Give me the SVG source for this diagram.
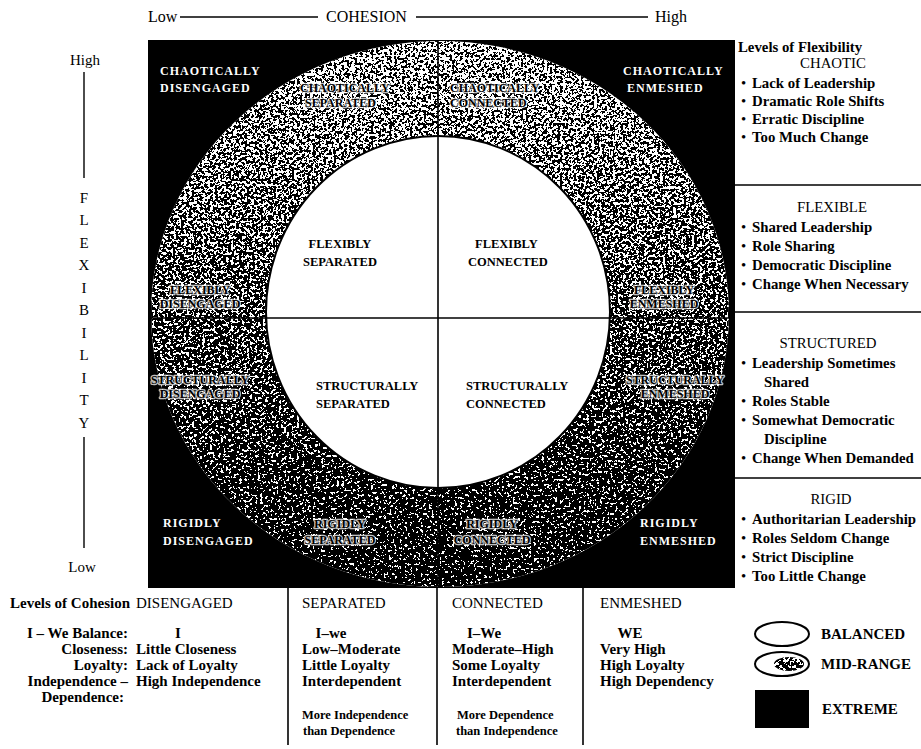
<svg xmlns="http://www.w3.org/2000/svg" width="921" height="749" viewBox="0 0 921 749">
  <defs>
    <style>
      text { font-family: "Liberation Serif", "Times New Roman", serif; fill: #000; }
      .hd { font-size: 16px; }
      .ax { font-size: 15px; }
      .ex { font-size: 12px; font-weight: bold; fill: #fff; letter-spacing: 1px; }
      .mr { font-size: 12px; font-weight: bold; }
      .halo { fill: #fff; stroke: #fff; stroke-width: 2.5px; stroke-linejoin: round; opacity: 0.75; }
      .bl { font-size: 12.5px; font-weight: bold; }
      .rc { font-size: 14.8px; }
      .bt { font-size: 15px; }
      .sm { font-size: 12.5px; font-weight: bold; }
      .b { font-weight: bold; }
      .mid { text-anchor: middle; }
      .end { text-anchor: end; }
      .rule { stroke: #000; stroke-width: 1.6; fill: none; }
      .axis { stroke: #000; stroke-width: 1.4; fill: none; }
    </style>
    <!-- band between the outer and inner ellipse -->
    <clipPath id="ring">
      <path clip-rule="evenodd" d="M151,314 a289,273 0 1 0 578,0 a289,273 0 1 0 -578,0 Z M266,312 a172,176 0 1 0 344,0 a172,176 0 1 0 -344,0 Z"/>
    </clipPath>
    <clipPath id="legendCore">
      <ellipse cx="789" cy="664" rx="15" ry="7"/>
    </clipPath>
    <!-- grey level = speckle density -->
    <linearGradient id="density" x1="0" y1="0" x2="0" y2="1">
      <stop offset="0" stop-color="rgb(118,118,118)"/>
      <stop offset="0.5" stop-color="rgb(142,142,142)"/>
      <stop offset="1" stop-color="rgb(166,166,166)"/>
    </linearGradient>
    <filter id="grain" x="0" y="0" width="1" height="1" color-interpolation-filters="sRGB">
      <feTurbulence type="fractalNoise" baseFrequency="0.38" numOctaves="3" seed="11" result="n"/>
      <feColorMatrix in="n" type="matrix" values="1 0 0 0 0  1 0 0 0 0  1 0 0 0 0  0 0 0 0 1" result="g"/>
      <feComposite in="g" in2="SourceGraphic" operator="arithmetic" k1="0" k2="1" k3="1" k4="-0.5" result="s"/>
      <feComponentTransfer in="s" result="t">
        <feFuncR type="discrete" tableValues="0 1"/>
      </feComponentTransfer>
      <feColorMatrix in="t" type="matrix" values="0 0 0 0 0  0 0 0 0 0  0 0 0 0 0  1 0 0 0 0"/>
    </filter>
  </defs>

  <rect x="0" y="0" width="921" height="749" fill="#fff"/>

  <!-- circumplex field -->
  <g id="field">
    <rect x="148" y="40" width="587" height="548" fill="#000"/>
    <ellipse cx="440" cy="314" rx="289" ry="273" fill="#fff"/>
    <g clip-path="url(#ring)">
      <rect x="150" y="40" width="582" height="548" fill="url(#density)" filter="url(#grain)"/>
    </g>
    <ellipse cx="438" cy="312" rx="172" ry="176" fill="#fff" stroke="#000" stroke-width="2"/>
  </g>

  <!-- axes and dividers -->
  <g id="connectors">
    <line class="rule" x1="438" y1="40" x2="438" y2="588"/>
    <line class="rule" x1="150" y1="318" x2="732" y2="318"/>
    <line class="axis" x1="180" y1="17" x2="318" y2="17"/>
    <line class="axis" x1="416" y1="17" x2="648" y2="17"/>
    <line class="axis" x1="84" y1="72" x2="84" y2="178"/>
    <line class="axis" x1="84" y1="437" x2="84" y2="548"/>
    <line class="rule" x1="735" y1="185" x2="921" y2="185"/>
    <line class="rule" x1="735" y1="312" x2="921" y2="312"/>
    <line class="rule" x1="735" y1="478" x2="921" y2="478"/>
    <line class="rule" x1="288" y1="588" x2="288" y2="745"/>
    <line class="rule" x1="437" y1="588" x2="437" y2="745"/>
    <line class="rule" x1="583" y1="588" x2="583" y2="745"/>
  </g>

  <!-- axis titles -->
  <g id="cohesion-axis">
    <text class="hd" x="148" y="22">Low</text>
    <text class="hd" x="326" y="22">COHESION</text>
    <text class="hd" x="655" y="22">High</text>
  </g>
  <g id="flexibility-axis">
    <text class="ax mid" x="85" y="65">High</text>
    <text class="ax mid" x="84" y="203">F</text>
    <text class="ax mid" x="84" y="225">L</text>
    <text class="ax mid" x="84" y="248">E</text>
    <text class="ax mid" x="84" y="270">X</text>
    <text class="ax mid" x="84" y="293">I</text>
    <text class="ax mid" x="84" y="315">B</text>
    <text class="ax mid" x="84" y="338">I</text>
    <text class="ax mid" x="84" y="360">L</text>
    <text class="ax mid" x="84" y="383">I</text>
    <text class="ax mid" x="84" y="405">T</text>
    <text class="ax mid" x="84" y="428">Y</text>
    <text class="ax mid" x="82" y="572">Low</text>
  </g>

  <!-- extreme types -->
  <g id="chaotically-disengaged"><text class="ex" x="160" y="75">CHAOTICALLY</text><text class="ex" x="160" y="92">DISENGAGED</text></g>
  <g id="chaotically-enmeshed"><text class="ex" x="623" y="75">CHAOTICALLY</text><text class="ex" x="627" y="92">ENMESHED</text></g>
  <g id="rigidly-disengaged"><text class="ex" x="163" y="527">RIGIDLY</text><text class="ex" x="163" y="545">DISENGAGED</text></g>
  <g id="rigidly-enmeshed"><text class="ex" x="640" y="527">RIGIDLY</text><text class="ex" x="640" y="545">ENMESHED</text></g>

  <!-- mid-range types: white underlay, then black lettering -->
  <g id="chaotically-separated">
    <text class="mr halo" x="300" y="92">CHAOTICALLY</text><text class="mr halo" x="305" y="107">SEPARATED</text>
    <text class="mr" x="300" y="92">CHAOTICALLY</text><text class="mr" x="305" y="107">SEPARATED</text>
  </g>
  <g id="chaotically-connected">
    <text class="mr halo" x="450" y="92">CHAOTICALLY</text><text class="mr halo" x="450" y="107">CONNECTED</text>
    <text class="mr" x="450" y="92">CHAOTICALLY</text><text class="mr" x="450" y="107">CONNECTED</text>
  </g>
  <g id="flexibly-disengaged">
    <text class="mr mid halo" x="200" y="294">FLEXIBLY</text><text class="mr mid halo" x="200" y="308">DISENGAGED</text>
    <text class="mr mid" x="200" y="294">FLEXIBLY</text><text class="mr mid" x="200" y="308">DISENGAGED</text>
  </g>
  <g id="flexibly-enmeshed">
    <text class="mr mid halo" x="664" y="294">FLEXIBLY</text><text class="mr mid halo" x="664" y="308">ENMESHED</text>
    <text class="mr mid" x="664" y="294">FLEXIBLY</text><text class="mr mid" x="664" y="308">ENMESHED</text>
  </g>
  <g id="structurally-disengaged">
    <text class="mr mid halo" x="200" y="384">STRUCTURALLY</text><text class="mr mid halo" x="200" y="398">DISENGAGED</text>
    <text class="mr mid" x="200" y="384">STRUCTURALLY</text><text class="mr mid" x="200" y="398">DISENGAGED</text>
  </g>
  <g id="structurally-enmeshed">
    <text class="mr mid halo" x="675" y="384">STRUCTURALLY</text><text class="mr mid halo" x="675" y="398">ENMESHED</text>
    <text class="mr mid" x="675" y="384">STRUCTURALLY</text><text class="mr mid" x="675" y="398">ENMESHED</text>
  </g>
  <g id="rigidly-separated">
    <text class="mr mid halo" x="340" y="528">RIGIDLY</text><text class="mr mid halo" x="340" y="544">SEPARATED</text>
    <text class="mr mid" x="340" y="528">RIGIDLY</text><text class="mr mid" x="340" y="544">SEPARATED</text>
  </g>
  <g id="rigidly-connected">
    <text class="mr mid halo" x="492" y="528">RIGIDLY</text><text class="mr mid halo" x="492" y="544">CONNECTED</text>
    <text class="mr mid" x="492" y="528">RIGIDLY</text><text class="mr mid" x="492" y="544">CONNECTED</text>
  </g>

  <!-- balanced types -->
  <g id="flexibly-separated"><text class="bl mid" x="340" y="248">FLEXIBLY</text><text class="bl mid" x="340" y="266">SEPARATED</text></g>
  <g id="flexibly-connected"><text class="bl" x="475" y="248">FLEXIBLY</text><text class="bl" x="468" y="266">CONNECTED</text></g>
  <g id="structurally-separated"><text class="bl" x="316" y="390">STRUCTURALLY</text><text class="bl" x="316" y="408">SEPARATED</text></g>
  <g id="structurally-connected"><text class="bl" x="466" y="390">STRUCTURALLY</text><text class="bl" x="466" y="408">CONNECTED</text></g>

  <!-- flexibility levels -->
  <g id="levels-flexibility">
    <text class="rc b" x="738" y="52">Levels of Flexibility</text>
    <text class="rc mid" x="833" y="68">CHAOTIC</text>
    <text class="rc" x="741" y="88">•</text><text class="rc b" x="752" y="88">Lack of Leadership</text>
    <text class="rc" x="741" y="106">•</text><text class="rc b" x="752" y="106">Dramatic Role Shifts</text>
    <text class="rc" x="741" y="124">•</text><text class="rc b" x="752" y="124">Erratic Discipline</text>
    <text class="rc" x="741" y="142">•</text><text class="rc b" x="752" y="142">Too Much Change</text>

    <text class="rc mid" x="832" y="212">FLEXIBLE</text>
    <text class="rc" x="741" y="232">•</text><text class="rc b" x="752" y="232">Shared Leadership</text>
    <text class="rc" x="741" y="251">•</text><text class="rc b" x="752" y="251">Role Sharing</text>
    <text class="rc" x="741" y="270">•</text><text class="rc b" x="752" y="270">Democratic Discipline</text>
    <text class="rc" x="741" y="289">•</text><text class="rc b" x="752" y="289">Change When Necessary</text>

    <text class="rc mid" x="828" y="348">STRUCTURED</text>
    <text class="rc" x="741" y="368">•</text><text class="rc b" x="752" y="368">Leadership Sometimes</text>
    <text class="rc b" x="764" y="387">Shared</text>
    <text class="rc" x="741" y="406">•</text><text class="rc b" x="752" y="406">Roles Stable</text>
    <text class="rc" x="741" y="425">•</text><text class="rc b" x="752" y="425">Somewhat Democratic</text>
    <text class="rc b" x="764" y="444">Discipline</text>
    <text class="rc" x="741" y="463">•</text><text class="rc b" x="752" y="463">Change When Demanded</text>

    <text class="rc mid" x="831" y="504">RIGID</text>
    <text class="rc" x="741" y="524">•</text><text class="rc b" x="752" y="524">Authoritarian Leadership</text>
    <text class="rc" x="741" y="543">•</text><text class="rc b" x="752" y="543">Roles Seldom Change</text>
    <text class="rc" x="741" y="562">•</text><text class="rc b" x="752" y="562">Strict Discipline</text>
    <text class="rc" x="741" y="581">•</text><text class="rc b" x="752" y="581">Too Little Change</text>
  </g>

  <!-- cohesion levels -->
  <g id="levels-cohesion">
    <text class="bt b" x="10" y="608">Levels of Cohesion</text>
    <text class="bt b end" x="128" y="638">I – We Balance:</text>
    <text class="bt b end" x="128" y="654">Closeness:</text>
    <text class="bt b end" x="128" y="670">Loyalty:</text>
    <text class="bt b end" x="128" y="686">Independence –</text>
    <text class="bt b end" x="124" y="702">Dependence:</text>
  </g>
  <g id="disengaged">
    <text class="bt" x="136" y="608">DISENGAGED</text>
    <text class="bt b mid" x="178" y="638">I</text>
    <text class="bt b" x="136" y="654">Little Closeness</text>
    <text class="bt b" x="136" y="670">Lack of Loyalty</text>
    <text class="bt b" x="136" y="686">High Independence</text>
  </g>
  <g id="separated">
    <text class="bt" x="302" y="608">SEPARATED</text>
    <text class="bt b mid" x="331" y="638">I–we</text>
    <text class="bt b" x="302" y="654">Low–Moderate</text>
    <text class="bt b" x="302" y="670">Little Loyalty</text>
    <text class="bt b" x="302" y="686">Interdependent</text>
    <text class="sm" x="302" y="719">More Independence</text>
    <text class="sm" x="303" y="735">than Dependence</text>
  </g>
  <g id="connected">
    <text class="bt" x="452" y="608">CONNECTED</text>
    <text class="bt b mid" x="484" y="638">I–We</text>
    <text class="bt b" x="452" y="654">Moderate–High</text>
    <text class="bt b" x="452" y="670">Some Loyalty</text>
    <text class="bt b" x="452" y="686">Interdependent</text>
    <text class="sm" x="457" y="719">More Dependence</text>
    <text class="sm" x="456" y="735">than Independence</text>
  </g>
  <g id="enmeshed">
    <text class="bt" x="600" y="608">ENMESHED</text>
    <text class="bt b mid" x="630" y="638">WE</text>
    <text class="bt b" x="600" y="654">Very High</text>
    <text class="bt b" x="600" y="670">High Loyalty</text>
    <text class="bt b" x="600" y="686">High Dependency</text>
  </g>

  <!-- key -->
  <g id="legend-balanced">
    <ellipse cx="782" cy="634" rx="27" ry="12" fill="#fff" stroke="#000" stroke-width="2"/>
    <text class="bt b" x="821" y="639">BALANCED</text>
  </g>
  <g id="legend-mid-range">
    <ellipse cx="782" cy="664" rx="27" ry="12" fill="#fff" stroke="#000" stroke-width="2"/>
    <g clip-path="url(#legendCore)">
      <rect x="772" y="656" width="34" height="16" fill="rgb(140,140,140)" filter="url(#grain)"/>
    </g>
    <text class="bt b" x="821" y="669">MID-RANGE</text>
  </g>
  <g id="legend-extreme">
    <rect x="755" y="690" width="54" height="38" fill="#000"/>
    <text class="bt b" x="822" y="714">EXTREME</text>
  </g>
</svg>
